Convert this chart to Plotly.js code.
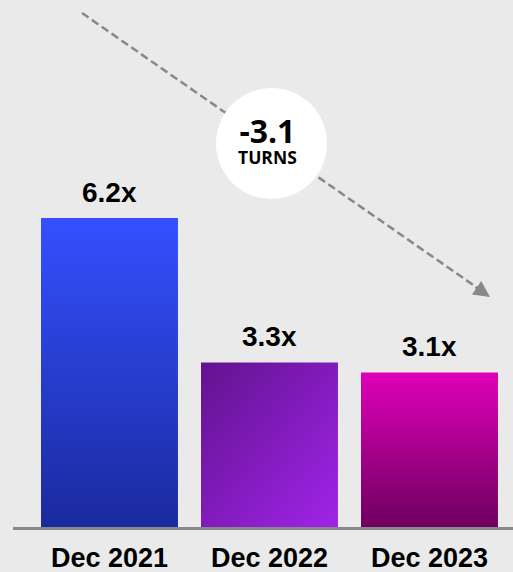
<!DOCTYPE html>
<html>
<head>
<meta charset="utf-8">
<script src="https://cdn.plot.ly/plotly-3.0.1.min.js"></script>
<style>
  html, body { margin: 0; padding: 0; background: #EAEAEA; }
  #chart { width: 513px; height: 572px; }
</style>
</head>
<body>
<div id="chart"></div>
<script>
// ---- data ----
const categories = ['Dec 2021', 'Dec 2022', 'Dec 2023'];
const leverage = [6.2, 3.3, 3.1];
const valueLabels = ['6.2x', '3.3x', '3.1x'];
const changeLabel = '-3.1';
const changeUnit = 'TURNS';

// ---- styles ----
const gradients = [
  { id: 'g0', x2: 0, y2: 1, stops: ['#3450FF', '#1A2A9E'] },
  { id: 'g1', x2: 1, y2: 1, stops: ['#62138F', '#A024E8'] },
  { id: 'g2', x2: 0, y2: 1, stops: ['#DE00B8', '#6E0060'] }
];
const fallbackColors = ['#2840D0', '#8A1CC0', '#A8008C'];

const bars = {
  type: 'bar',
  x: categories,
  y: leverage,
  width: 0.856,
  marker: { color: fallbackColors, line: { width: 0 } },
  hoverinfo: 'skip'
};

const valueAnnotations = categories.map((c, i) => ({
  x: c, y: leverage[i], xref: 'x', yref: 'y',
  text: '<b>' + valueLabels[i] + '</b>',
  showarrow: false, yanchor: 'bottom', yshift: 8,
  font: { family: 'Liberation Sans, Arial, sans-serif', size: 28, color: '#000000' }
}));

const layout = {
  width: 513, height: 572,
  margin: { l: 13, r: 0, t: 0, b: 45 },
  paper_bgcolor: '#EAEAEA',
  plot_bgcolor: '#EAEAEA',
  showlegend: false,
  xaxis: {
    type: 'category',
    range: [-0.603, 2.522],
    showgrid: false, zeroline: false,
    showline: true, linecolor: '#888888', linewidth: 3,
    ticks: 'outside', ticklen: 5, tickcolor: 'rgba(0,0,0,0)',
    tickfont: { family: 'Liberation Sans, Arial, sans-serif', size: 27, color: '#000000', weight: 'bold' },
    fixedrange: true
  },
  yaxis: {
    range: [0, 10.57],
    visible: false, showgrid: false, zeroline: false, fixedrange: true
  },
  shapes: [
    { type: 'line', xref: 'paper', yref: 'paper',
      x0: 0.138, y0: 0.9753, x1: 0.93, y1: 0.453,
      line: { color: '#888888', width: 2.5, dash: '8px,4px' } },
    { type: 'circle', xref: 'paper', yref: 'paper',
      x0: 0.406, y0: 0.6224, x1: 0.628, y1: 0.833,
      fillcolor: '#FFFFFF', line: { width: 0 } }
  ],
  annotations: valueAnnotations.concat([
    { xref: 'paper', yref: 'paper', x: 0.509, y: (527 - 139) / 527,
      text: '<b><span style="font-size:32px">' + changeLabel + '</span><br><span style="font-size:17.5px">' + changeUnit + '</span></b>',
      showarrow: false, yanchor: 'middle', align: 'center',
      font: { family: 'Open Sans, sans-serif', size: 16, color: '#000000' } },
    { xref: 'paper', yref: 'paper', x: 0.954, y: 0.4364,
      text: '', showarrow: true, arrowhead: 2, arrowsize: 1.3, arrowwidth: 2.5,
      arrowcolor: '#888888', ax: -16, ay: -11, standoff: 0 }
  ])
};

Plotly.newPlot('chart', [bars], layout, { displayModeBar: false, staticPlot: true }).then(gd => {
  const svg = gd.querySelector('.main-svg');
  let defs = svg.querySelector('defs');
  const NS = 'http://www.w3.org/2000/svg';
  if (!defs) { defs = document.createElementNS(NS, 'defs'); svg.insertBefore(defs, svg.firstChild); }
  gradients.forEach(g => {
    const lg = document.createElementNS(NS, 'linearGradient');
    lg.setAttribute('id', g.id);
    lg.setAttribute('x1', 0); lg.setAttribute('y1', 0);
    lg.setAttribute('x2', g.x2); lg.setAttribute('y2', g.y2);
    g.stops.forEach((c, k) => {
      const s = document.createElementNS(NS, 'stop');
      s.setAttribute('offset', k === 0 ? '0' : '1');
      s.setAttribute('stop-color', c);
      lg.appendChild(s);
    });
    defs.appendChild(lg);
  });
  const paths = gd.querySelectorAll('.barlayer .point path');
  paths.forEach((p, i) => { if (gradients[i]) p.style.fill = 'url(#' + gradients[i].id + ')'; });
});
</script>
</body>
</html>
